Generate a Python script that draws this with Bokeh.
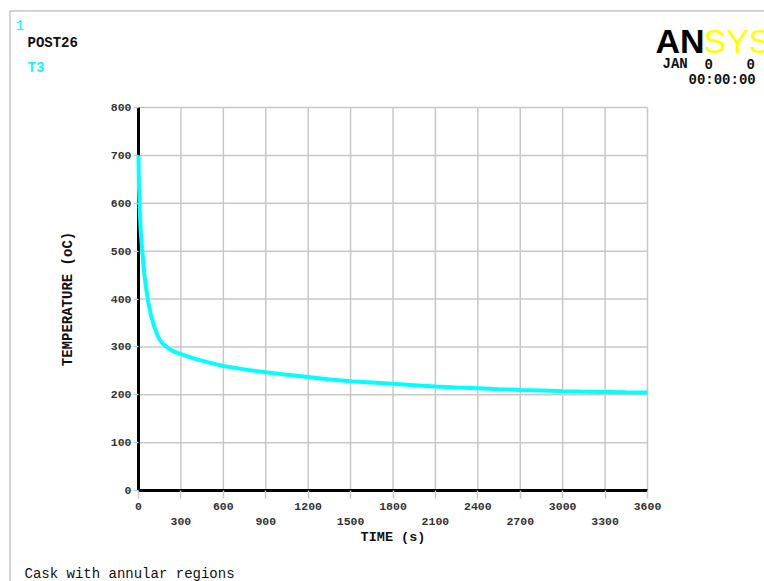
from bokeh.plotting import figure
from bokeh.models import Range1d, FixedTicker, LinearAxis, Label, BoxAnnotation
from bokeh.embed import file_html
from bokeh.resources import INLINE

# ---- data ----
time_s = [0, 3, 8, 15, 25, 40, 55, 70, 90, 110, 140, 170, 210, 260, 300, 400, 500,
          600, 750, 900, 1050, 1200, 1350, 1500, 1650, 1800, 1950, 2100, 2250, 2400,
          2550, 2700, 2850, 3000, 3150, 3300, 3450, 3600]
temp_c = [700, 640, 590, 545, 505, 455, 420, 392, 364, 343, 320, 307, 297, 289, 285,
          275, 267, 260, 253, 247, 242, 237, 232, 228, 225.5, 223, 220, 217, 215,
          213.5, 211.5, 210, 209, 207.5, 206.5, 206, 205, 204.5]

x_ticks_row1 = [0, 600, 1200, 1800, 2400, 3000, 3600]
x_ticks_row2 = [300, 900, 1500, 2100, 2700, 3300]
y_ticks = [0, 100, 200, 300, 400, 500, 600, 700, 800]

x_label = "TIME (s)"
y_label = "TEMPERATURE (oC)"
window_no = "1"
program = "POST26"
series_name = "T3"
logo_a = "AN"
logo_b = "SYS"
date_parts = ["JAN", "0", "0"]
time_line = "00:00:00"
caption = "Cask with annular regions"

# ---- layout (the frame fills the whole canvas; the chart box sits inside) ----
W, H = 764, 581
BOX_L, BOX_R, BOX_T, BOX_B = 138, 647, 107, 490   # chart box in pixels
MONO = "Liberation Mono"
CYAN = "#00ffff"
GRID = "#c8c8c8"

x_all = sorted(x_ticks_row1 + x_ticks_row2)
x0, x1 = min(x_all), max(x_all)
y0, y1 = min(y_ticks), max(y_ticks)
kx = (x1 - x0) / (BOX_R - BOX_L)
ky = (y1 - y0) / (BOX_B - BOX_T)

p = figure(width=W, height=H, output_backend="svg", toolbar_location=None,
           x_range=Range1d(x0 - BOX_L * kx, x0 + (W - BOX_L) * kx),
           y_range=Range1d(y0 - (H - BOX_B) * ky, y0 + BOX_B * ky),
           min_border=0)
p.background_fill_color = "white"
p.border_fill_color = "white"
p.outline_line_color = None
p.xgrid.visible = False
p.ygrid.visible = False


def px(xp):
    return p.x_range.start + xp * kx


def py(yp):
    return p.y_range.end - yp * ky


# window border (top and left edges)
p.add_layout(BoxAnnotation(left=px(9.5), right=px(W + 50), top=py(10.5), bottom=py(H + 50),
                           fill_color=None, fill_alpha=0, line_color="#444444", line_width=1.5))

# grid lines drawn from the tick lists
p.segment(x0=x_all, y0=[y0] * len(x_all), x1=x_all, y1=[y1] * len(x_all),
          line_color=GRID, line_width=1.5, level="underlay")
p.segment(x0=[x0] * len(y_ticks), y0=y_ticks, x1=[x1] * len(y_ticks), y1=y_ticks,
          line_color=GRID, line_width=1.5, level="underlay")

# y axis
ya = p.yaxis[0]
ya.fixed_location = x0
ya.bounds = (y0, y1)
ya.ticker = FixedTicker(ticks=y_ticks)
ya.axis_line_color = "black"
ya.axis_line_width = 3
ya.major_tick_line_color = GRID
ya.major_tick_line_width = 1.5
ya.major_tick_in = 0
ya.major_tick_out = 5
ya.minor_tick_line_color = None
ya.major_label_standoff = 2
ya.major_label_text_font = MONO
ya.major_label_text_font_size = "11.5px"
ya.major_label_text_font_style = "bold"
ya.major_label_text_color = "#333333"
ya.axis_label = y_label
ya.axis_label_text_font = MONO
ya.axis_label_text_font_size = "14px"
ya.axis_label_text_font_style = "bold"
ya.axis_label_text_color = "#111111"
ya.axis_label_standoff = 32

# x axis, first label row (ticks at every 300 s)
xa = p.xaxis[0]
xa.fixed_location = y0
xa.bounds = (x0, x1)
xa.ticker = FixedTicker(ticks=x_all)
xa.major_label_overrides = {t: "" for t in x_ticks_row2}
xa.axis_line_color = "black"
xa.axis_line_width = 3
xa.major_tick_line_color = GRID
xa.major_tick_line_width = 1.5
xa.major_tick_in = 0
xa.major_tick_out = 8
xa.minor_tick_line_color = None
xa.major_label_standoff = 4
xa.major_label_text_align = "left"
xa.major_label_text_font = MONO
xa.major_label_text_font_size = "11.5px"
xa.major_label_text_font_style = "bold"
xa.major_label_text_color = "#333333"

# x axis, second label row + axis title
xb = LinearAxis(ticker=FixedTicker(ticks=x_ticks_row2), fixed_location=y0, bounds=(x0, x1))
xb.axis_line_color = None
xb.major_tick_line_color = None
xb.major_tick_in = 0
xb.major_tick_out = 0
xb.minor_tick_line_color = None
xb.major_label_standoff = 27
xb.major_label_text_align = "left"
xb.major_label_text_font = MONO
xb.major_label_text_font_size = "11.5px"
xb.major_label_text_font_style = "bold"
xb.major_label_text_color = "#333333"
xb.axis_label = x_label
xb.axis_label_text_font = MONO
xb.axis_label_text_font_size = "13.5px"
xb.axis_label_text_font_style = "bold"
xb.axis_label_text_color = "#111111"
xb.axis_label_standoff = 2
p.add_layout(xb, "below")

# curve
p.line(time_s, temp_c, line_color=CYAN, line_width=4, level="overlay")


# ---- header / footer texts ----
def add_text(txt, xp, yp, color="#111111", size="14px", style="bold", font=MONO):
    p.add_layout(Label(x=px(xp), y=py(yp), text=txt, text_color=color, text_font=font,
                       text_font_size=size, text_font_style=style,
                       text_baseline="alphabetic", text_align="left"))


add_text(window_no, 15, 24, color=CYAN, style="normal")
add_text(program, 27, 42)
add_text(series_name, 27, 67, color=CYAN)
add_text(logo_a, 655, 40, color="black", size="34px", font="Liberation Sans")
add_text(logo_b, 703, 40, color="#ffff00", size="34px", style="normal", font="Liberation Sans")
for part, xp in zip(date_parts, [662, 704, 746]):
    add_text(part, xp, 63)
add_text(time_line, 688, 79)
add_text(caption, 24, 573, style="normal")

open("out.html", "w").write(file_html(p, INLINE))
